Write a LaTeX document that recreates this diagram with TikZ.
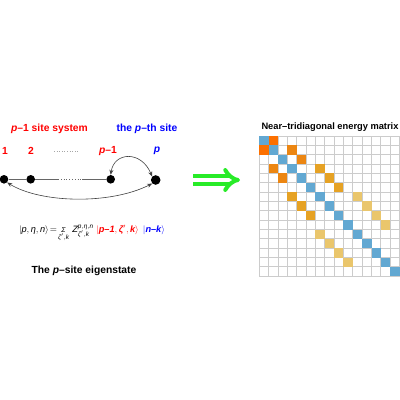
\documentclass[tikz,border=0pt]{standalone}
\usepackage{amsmath}
\usepackage{fontspec}
\setmainfont{Liberation Sans}
\usetikzlibrary{arrows.meta}
\definecolor{cellblue}{RGB}{98,168,210}
\definecolor{cellorange}{RGB}{252,112,0}
\definecolor{cellamber}{RGB}{236,134,18}
\definecolor{cellochre}{RGB}{230,162,36}
\definecolor{cellsand}{RGB}{234,198,108}
\definecolor{arrowgreen}{RGB}{40,235,40}
\newcommand{\mi}[1]{\textit{#1}}
\newcommand{\mbi}[1]{\textit{\textbf{#1}}}
\begin{document}
\begin{tikzpicture}[x=1pt,y=-1pt,
    every node/.style={font=\bfseries\fontsize{10.3}{12}\selectfont,inner sep=0pt},
    site/.style={circle,fill=black,inner sep=0pt,minimum size=8.6pt},
    link/.style={gray!80!black,line width=0.8pt},
    hop/.style={{Stealth[length=5pt,width=4pt]}-{Stealth[length=5pt,width=4pt]},black!75,line width=0.6pt}]
  \useasboundingbox (0,0) rectangle (400,400);
  % the chain of sites
  \node[red] (hsys) at (49.5,129) {\mi{p}--1 site system};
  \node[blue] (hsite) at (147,129) {the \mi{p}--th site};
  \node[red] (l1) at (5,151) {1};
  \node[red] (l2) at (31,151) {2};
  \node[red] (lpm) at (108,151) {\mi{p}--1};
  \node[blue] (lp) at (157,151) {\mi{p}};
  \coordinate (ldA) at (54,151);
  \coordinate (ldB) at (79,151);
  \draw[gray!70,dotted,line width=0.6pt] (ldA) -- (ldB);
  \node[site] (s1) at (4,179.3) {};
  \node[site] (s2) at (30.7,179.3) {};
  \node[site] (spm) at (110.7,179.3) {};
  \node[site,minimum size=9.6pt] (sp) at (155.7,180) {};
  \coordinate (dA) at (58,179.3);
  \coordinate (dB) at (82,179.3);
  \draw[link] (s1) -- (s2) -- (dA);
  \draw[link,dotted] (dA) -- (dB);
  \draw[link] (dB) -- (spm);
  \draw[hop] (spm.north) .. controls (114,152) and (141,150) .. (sp.north west);
  \draw[hop] (sp.south west) .. controls (110,205) and (40,203) .. (s1.south east);
  % the state
  \node[font=\fontsize{9.2}{11}\selectfont] (eq) at (92,233)
    {$|\mi{p},\mi{η},\mi{n}\rangle\!=\!\mathop{\mbox{\scriptsize\textit{Σ}}}\limits_{\mi{ζ}',\mi{k}}\,
      \mi{Z}^{\mi{p},\mi{η},\mi{n}}_{\mi{ζ}',\mi{k}}\ 
      \textcolor{red}{|\mbi{p--1},\mbi{ζ}',\mbi{k}\rangle}\ \,
      \textcolor{blue}{|\mbi{n--k}\rangle}$};
  \node (state) at (84,271) {The \mi{p}--site eigenstate};
  % arrow
  \coordinate (gA) at (193,180);
  \coordinate (gB) at (240,180);
  \draw[arrowgreen,double,double distance=3.5pt,line width=4pt,-{Implies}] (gA) -- (gB);
  % matrix
  \node[font=\bfseries\fontsize{9.3}{11}\selectfont] (mtitle) at (330,127) {Near--tridiagonal energy matrix};
  \begin{scope}[shift={(259.3,136)},x=9.35pt,y=-9.35pt]
    \foreach \i in {0,...,15} {
      \draw[gray!40,line width=0.9pt] (\i,0) -- (\i,15);
      \draw[gray!40,line width=0.9pt] (0,\i) -- (15,\i);
    }
    \foreach \r/\c/\shade in {0/0/cellblue,0/1/cellorange,1/0/cellorange,1/1/cellblue,1/3/cellamber,
        2/2/cellblue,2/4/cellamber,3/1/cellamber,3/3/cellblue,3/6/cellochre,
        4/2/cellamber,4/4/cellblue,4/7/cellochre,5/5/cellblue,5/8/cellochre,
        6/3/cellochre,6/6/cellblue,6/10/cellsand,7/4/cellochre,7/7/cellblue,7/11/cellsand,
        8/5/cellochre,8/8/cellblue,8/12/cellsand,9/9/cellblue,9/13/cellsand,
        10/6/cellsand,10/10/cellblue,11/7/cellsand,11/11/cellblue,
        12/8/cellsand,12/12/cellblue,13/9/cellsand,13/13/cellblue,14/14/cellblue}
      \fill[\shade] (\c,\r) rectangle ++(1,1);
  \end{scope}
\end{tikzpicture}
\end{document}
